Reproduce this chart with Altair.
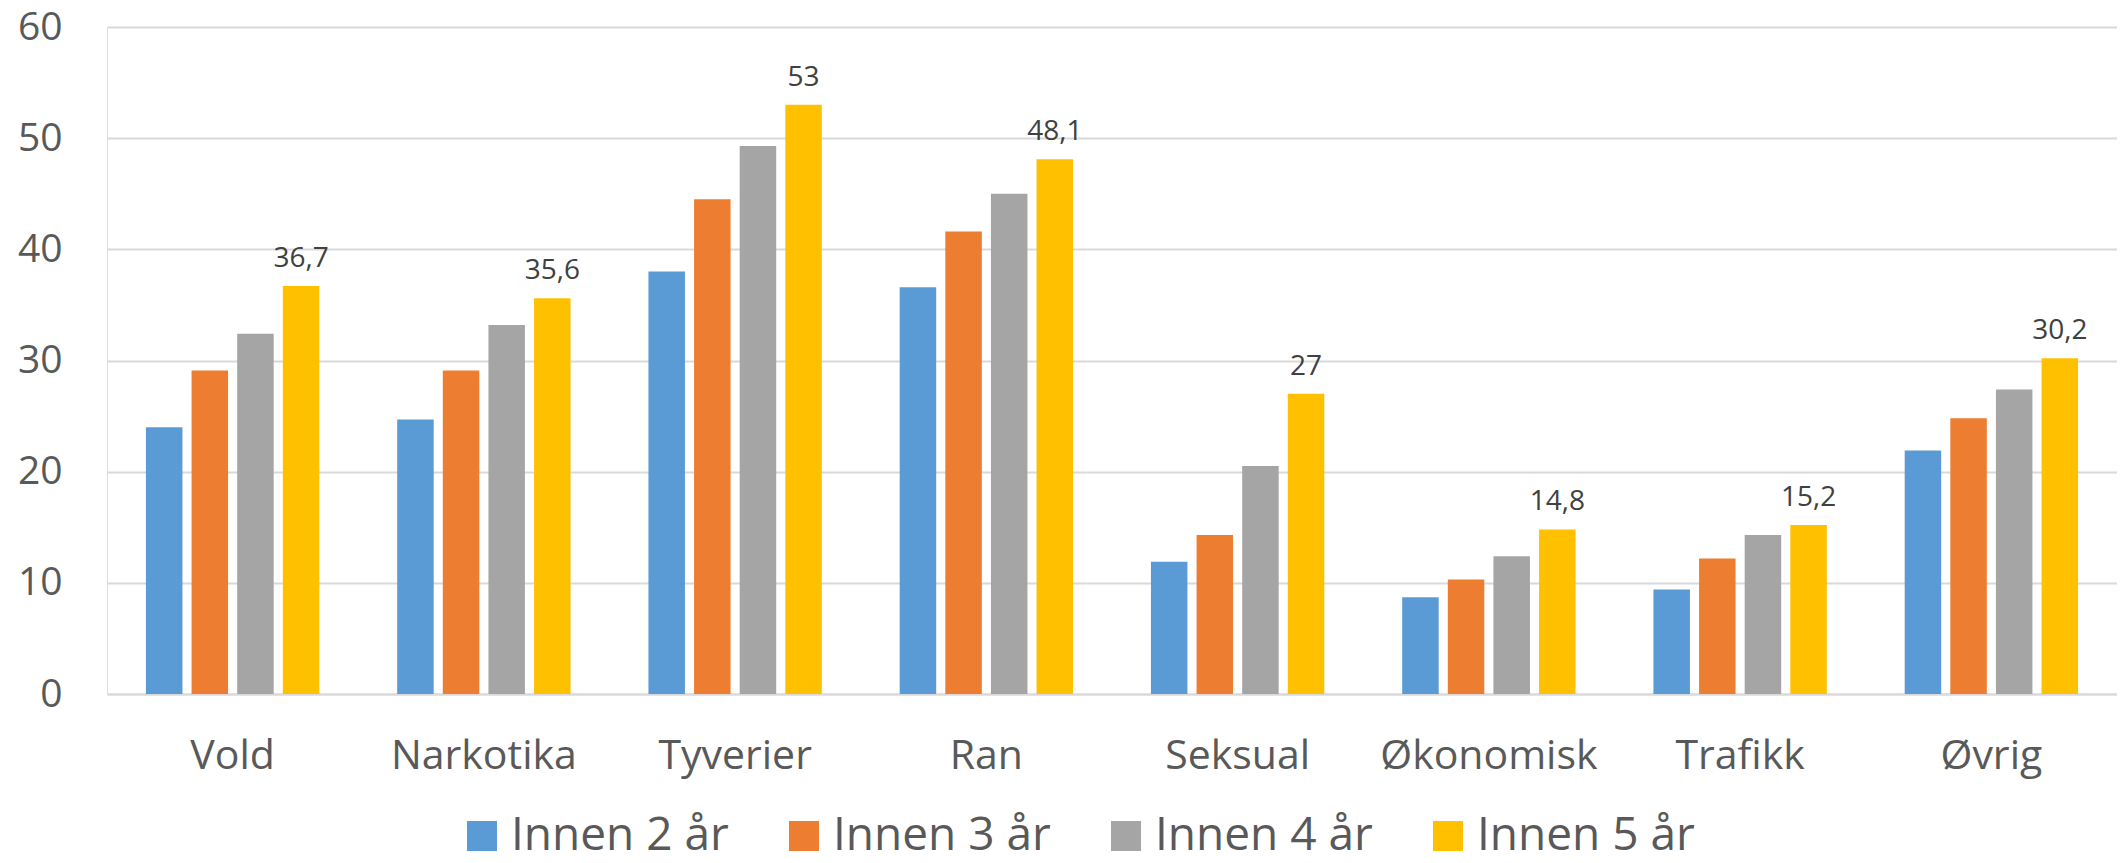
import altair as alt
import pandas as pd

categories = ["Vold", "Narkotika", "Tyverier", "Ran", "Seksual", "Økonomisk", "Trafikk", "Øvrig"]
series = ["Innen 2 år", "Innen 3 år", "Innen 4 år", "Innen 5 år"]
innen2 = [24.0, 24.7, 38.0, 36.6, 11.9, 8.7, 9.4, 21.9]
innen3 = [29.1, 29.1, 44.5, 41.6, 14.3, 10.3, 12.2, 24.8]
innen4 = [32.4, 33.2, 49.3, 45.0, 20.5, 12.4, 14.3, 27.4]
innen5 = [36.7, 35.6, 53.0, 48.1, 27.0, 14.8, 15.2, 30.2]
colors = ["#5B9BD5", "#ED7D31", "#A5A5A5", "#FFC000"]

rows = []
for s, vals in zip(series, [innen2, innen3, innen4, innen5]):
    for c, v in zip(categories, vals):
        lab = (str(int(v)) if float(v).is_integer() else f"{v:.1f}").replace(".", ",")
        rows.append({"kategori": c, "serie": s, "verdi": v, "etikett": lab})
df = pd.DataFrame(rows)

FONT = "Open Sans"

x = alt.X("kategori:N", sort=categories, title=None,
          scale=alt.Scale(paddingInner=0.31, paddingOuter=0.155),
          axis=alt.Axis(labelAngle=0, labelFontSize=41, labelColor="#595959", labelFont=FONT,
                        labelLimit=0, ticks=False, domainColor="#D9D9D9", domainWidth=2,
                        labelPadding=42))
xo = alt.XOffset("serie:N", sort=series,
                 scale=alt.Scale(domain=series, paddingInner=0.2, paddingOuter=0))
y = alt.Y("verdi:Q", title=None,
          scale=alt.Scale(domain=[0, 60], nice=False),
          axis=alt.Axis(values=[0, 10, 20, 30, 40, 50, 60], labelFontSize=39, labelColor="#595959",
                        labelFont=FONT, ticks=False, domain=False, gridColor="#D9D9D9", gridWidth=2,
                        labelPadding=45))

bars = alt.Chart(df).mark_bar().encode(
    x=x, xOffset=xo, y=y,
    color=alt.Color("serie:N", sort=series,
                    scale=alt.Scale(domain=series, range=colors),
                    legend=alt.Legend(title=None, orient="none", direction="horizontal",
                                      legendX=352, legendY=786, symbolType="square",
                                      symbolSize=900, symbolStrokeWidth=0, labelFontSize=46,
                                      labelFont=FONT, labelColor="#595959", labelOffset=6,
                                      labelLimit=0, columnPadding=52, symbolOpacity=1)),
)

labels = alt.Chart(df).transform_filter(alt.datum.serie == "Innen 5 år").mark_text(
    baseline="alphabetic", dy=-19, fontSize=28, font=FONT, color="#404040"
).encode(x=x, xOffset=xo, y=y, text="etikett:N")

chart = alt.layer(bars, labels).properties(
    width=2010, height=667,
    autosize=alt.AutoSizeParams(type="none"),
    padding={"left": 99, "top": 19, "right": 0, "bottom": 161},
).configure_view(stroke=None).configure(background="white")

chart.save("out.html", embed_options={"renderer": "svg", "actions": False})
